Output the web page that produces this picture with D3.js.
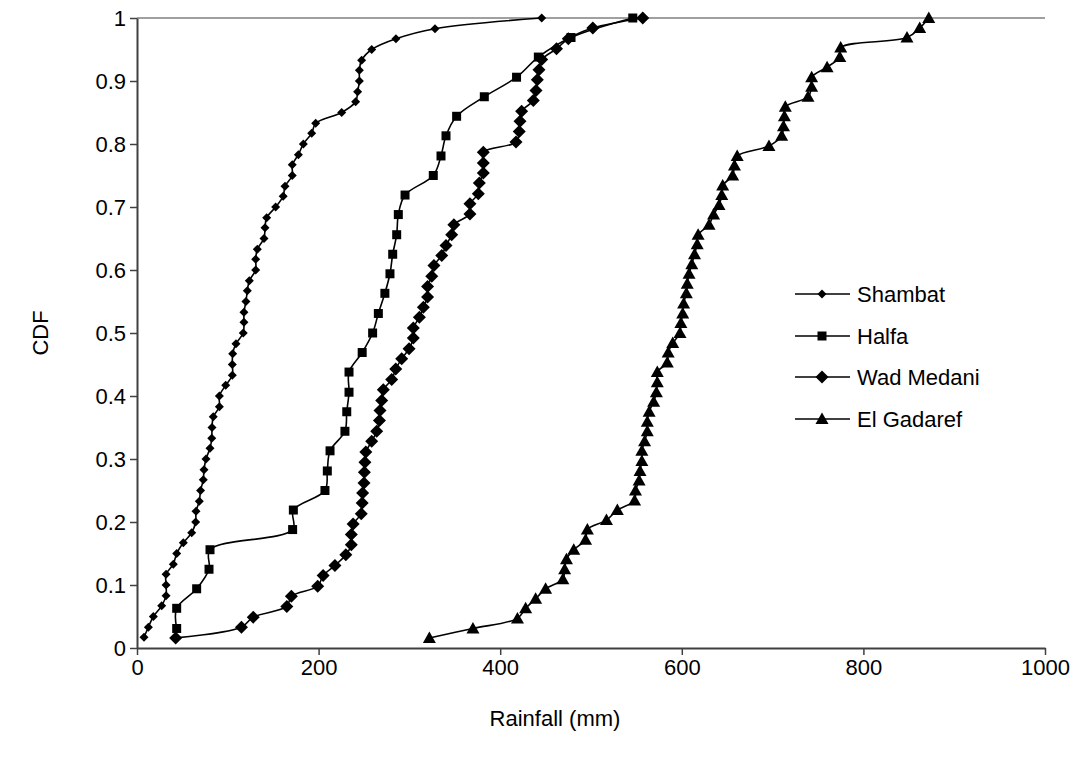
<!DOCTYPE html>
<html>
<head>
<meta charset="utf-8">
<script src="https://cdn.jsdelivr.net/npm/d3@7"></script>
<style>
  body { margin: 0; background: #fff; }
  svg { display: block; }
  text { font-family: "Liberation Sans", Arial, sans-serif; fill: #000; }
</style>
</head>
<body>
<svg id="chart" width="1076" height="757"></svg>
<script>
// Annual rainfall (mm) sorted ascending, with the empirical CDF value of each year
const shambatRain = [7.7, 12.5, 18, 27.2, 32, 32, 32, 40, 43.7, 51,
  60.2, 64.6, 65, 68.6, 70, 73, 73.8, 76, 80.4, 82.3,
  82.6, 84, 90.7, 90.7, 97.7, 105, 105, 105.4, 109, 117,
  117.8, 117.8, 120, 121.5, 123.7, 130.7, 130.7, 132.5, 139.9, 141,
  142.8, 152.7, 161, 163, 171, 171, 177.7, 183.2, 192.4, 196.8,
  225.4, 240.8, 243, 244.9, 244.9, 247.4, 258.5, 285.2, 328.2, 445.7];
const shambatCdf = [0.017, 0.033, 0.050, 0.067, 0.083, 0.100, 0.117, 0.133, 0.150, 0.167,
  0.183, 0.200, 0.217, 0.233, 0.250, 0.267, 0.283, 0.300, 0.317, 0.333,
  0.350, 0.367, 0.383, 0.400, 0.417, 0.433, 0.450, 0.467, 0.483, 0.500,
  0.517, 0.533, 0.550, 0.567, 0.583, 0.600, 0.617, 0.633, 0.650, 0.667,
  0.683, 0.700, 0.717, 0.733, 0.750, 0.767, 0.783, 0.800, 0.817, 0.833,
  0.850, 0.867, 0.883, 0.900, 0.917, 0.933, 0.950, 0.967, 0.983, 1.000];

const halfaRain = [43.7, 43.7, 65.7, 79.3, 80.4, 171.4, 172.2, 207, 209.6, 212.6,
  229, 231, 233.5, 233.5, 248, 259.5, 265.8, 273, 278.6, 281.6,
  286, 287.8, 295.2, 326.3, 334.8, 340.3, 352, 382.5, 418, 442,
  478, 546];
const halfaCdf = [0.031, 0.063, 0.094, 0.125, 0.156, 0.188, 0.219, 0.250, 0.281, 0.313,
  0.344, 0.375, 0.406, 0.438, 0.469, 0.500, 0.531, 0.563, 0.594, 0.625,
  0.656, 0.688, 0.719, 0.750, 0.781, 0.813, 0.844, 0.875, 0.906, 0.938,
  0.969, 1.000];

const wadMedaniRain = [42.6, 115, 128, 165, 170, 199, 205, 218, 230, 236,
  236, 238, 247, 248, 248.5, 250, 250.4, 251, 252, 258.5,
  264, 267, 267.6, 269.5, 271.3, 280.5, 285, 291.5, 299.6, 304.3,
  304.3, 311, 315.4, 320, 320, 324.6, 327, 335.6, 340.3, 346.6,
  349, 366.7, 366.7, 375.9, 377, 381.4, 381.4, 381.4, 417.4, 421,
  421.8, 423.6, 436.5, 439.4, 440.9, 442.7, 445.7, 462, 475, 502,
  557];
const wadMedaniCdf = [0.016, 0.033, 0.049, 0.066, 0.082, 0.098, 0.115, 0.131, 0.148, 0.164,
  0.180, 0.197, 0.213, 0.230, 0.246, 0.262, 0.279, 0.295, 0.311, 0.328,
  0.344, 0.361, 0.377, 0.393, 0.410, 0.426, 0.443, 0.459, 0.475, 0.492,
  0.508, 0.525, 0.541, 0.557, 0.574, 0.590, 0.607, 0.623, 0.639, 0.656,
  0.672, 0.689, 0.705, 0.721, 0.738, 0.754, 0.770, 0.787, 0.803, 0.820,
  0.836, 0.852, 0.869, 0.885, 0.902, 0.918, 0.934, 0.951, 0.967, 0.984,
  1.000];

const gadarefRain = [322, 370, 419, 428, 439, 450, 469, 471, 473, 481,
  494, 496, 517, 529, 548, 549, 553, 554, 556, 556,
  559, 562, 562, 564, 569, 572, 573, 573, 584, 585,
  590, 598, 599, 601, 602, 605, 606, 608, 611, 614,
  617, 618, 630, 635, 641, 644, 645, 656, 658, 661,
  696, 710, 712, 713, 714, 739, 743, 743, 760, 774,
  775, 848, 862, 872];
const gadarefCdf = [0.016, 0.031, 0.047, 0.063, 0.078, 0.094, 0.109, 0.125, 0.141, 0.156,
  0.172, 0.188, 0.203, 0.219, 0.234, 0.250, 0.266, 0.281, 0.297, 0.313,
  0.328, 0.344, 0.359, 0.375, 0.391, 0.406, 0.422, 0.438, 0.453, 0.469,
  0.484, 0.500, 0.516, 0.531, 0.547, 0.563, 0.578, 0.594, 0.609, 0.625,
  0.641, 0.656, 0.672, 0.688, 0.703, 0.719, 0.734, 0.750, 0.766, 0.781,
  0.797, 0.813, 0.828, 0.844, 0.859, 0.875, 0.891, 0.906, 0.922, 0.938,
  0.953, 0.969, 0.984, 1.000];

const stationNames = ["Shambat", "Halfa", "Wad Medani", "El Gadaref"];
const xTicks = [0, 200, 400, 600, 800, 1000];
const xTickLabels = ["0", "200", "400", "600", "800", "1000"];
const yTicks = [0, 0.1, 0.2, 0.3, 0.4, 0.5, 0.6, 0.7, 0.8, 0.9, 1];
const yTickLabels = ["0", "0.1", "0.2", "0.3", "0.4", "0.5", "0.6", "0.7", "0.8", "0.9", "1"];

// marker shapes, centred on the point
const markerPath = {
  smallDiamond: "M0,-4.5L4.5,0L0,4.5L-4.5,0Z",
  square: "M-4.5,-4.5H4.5V4.5H-4.5Z",
  bigDiamond: "M0,-6.5L6.5,0L0,6.5L-6.5,0Z",
  triangle: "M0,-6.5L6.5,5L-6.5,5Z"
};

const series = [
  { name: stationNames[0], rain: shambatRain, cdf: shambatCdf, marker: "smallDiamond" },
  { name: stationNames[1], rain: halfaRain, cdf: halfaCdf, marker: "square" },
  { name: stationNames[2], rain: wadMedaniRain, cdf: wadMedaniCdf, marker: "bigDiamond" },
  { name: stationNames[3], rain: gadarefRain, cdf: gadarefCdf, marker: "triangle" }
];

const svg = d3.select("#chart");
const plot = { left: 137, right: 1045, top: 18, bottom: 648 };

const x = d3.scaleLinear().domain([0, 1000]).range([plot.left, plot.right]);
const y = d3.scaleLinear().domain([0, 1]).range([plot.bottom, plot.top]);

// top edge of the plot area
svg.append("line")
  .attr("x1", plot.left).attr("x2", plot.right)
  .attr("y1", plot.top).attr("y2", plot.top)
  .attr("stroke", "#a0a0a0").attr("stroke-width", 2);

// axes
const fontSize = 22;
const xAxis = svg.append("g")
  .attr("transform", `translate(0,${plot.bottom})`)
  .call(d3.axisBottom(x).tickValues(xTicks).tickSize(7).tickPadding(4).tickSizeOuter(0)
    .tickFormat((d, i) => xTickLabels[i]));
const yAxis = svg.append("g")
  .attr("transform", `translate(${plot.left},0)`)
  .call(d3.axisLeft(y).tickValues(yTicks).tickSize(7).tickPadding(4).tickSizeOuter(0)
    .tickFormat((d, i) => yTickLabels[i]));

[xAxis, yAxis].forEach(g => {
  g.select(".domain").attr("stroke", "#404040").attr("stroke-width", 2);
  g.selectAll(".tick line").attr("stroke", "#404040").attr("stroke-width", 1.5);
  g.selectAll(".tick text").attr("font-size", fontSize)
    .attr("font-family", '"Liberation Sans", Arial, sans-serif').attr("fill", "#000");
});

// axis titles
svg.append("text")
  .attr("x", 555).attr("y", 718)
  .attr("text-anchor", "middle").attr("dominant-baseline", "central")
  .attr("font-size", fontSize).text("Rainfall (mm)");
svg.append("text")
  .attr("transform", `translate(40,${(plot.top + plot.bottom) / 2}) rotate(-90)`)
  .attr("text-anchor", "middle").attr("dominant-baseline", "central")
  .attr("font-size", fontSize).text("CDF");

// smoothed CDF curves with markers
const line = d3.line()
  .x(d => x(d[0])).y(d => y(d[1]))
  .curve(d3.curveCatmullRom.alpha(0.5));

series.forEach(s => {
  const pts = s.rain.map((r, i) => [r, s.cdf[i]]);
  const g = svg.append("g");
  g.append("path").datum(pts)
    .attr("d", line).attr("fill", "none")
    .attr("stroke", "#000").attr("stroke-width", 1.6);
  g.selectAll("path.mk").data(pts).join("path")
    .attr("class", "mk")
    .attr("transform", d => `translate(${x(d[0])},${y(d[1])})`)
    .attr("d", markerPath[s.marker]).attr("fill", "#000");
});

// legend
const legend = svg.append("g");
const legendY = [294, 336, 377, 419];
series.forEach((s, i) => {
  const row = legend.append("g").attr("transform", `translate(0,${legendY[i]})`);
  row.append("line").attr("x1", 795).attr("x2", 850).attr("y1", 0).attr("y2", 0)
    .attr("stroke", "#000").attr("stroke-width", 1.6);
  row.append("path").attr("transform", "translate(822,0)")
    .attr("d", markerPath[s.marker]).attr("fill", "#000");
  row.append("text").attr("x", 857).attr("y", 0)
    .attr("dominant-baseline", "central").attr("font-size", fontSize).text(s.name);
});
</script>
</body>
</html>
